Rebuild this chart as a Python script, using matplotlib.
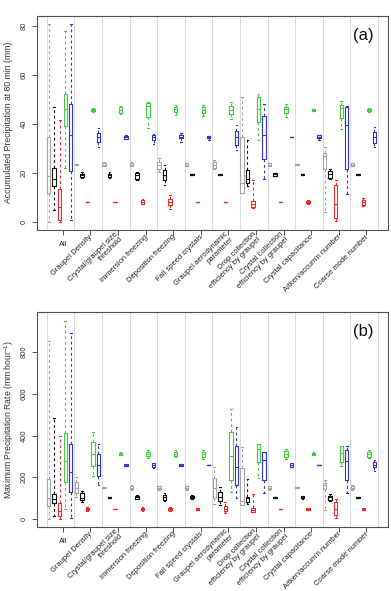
import numpy as np
import matplotlib
matplotlib.use('Agg')
import matplotlib.pyplot as plt

plt.rcParams['font.family'] = ['Liberation Sans', 'DejaVu Sans']
plt.rcParams['mathtext.fontset'] = 'custom'
plt.rcParams['mathtext.rm'] = 'Liberation Sans'
plt.rcParams['mathtext.it'] = 'Liberation Sans:italic'
plt.rcParams['mathtext.default'] = 'regular'

categories = ["All", "Graupel Density", "Crystal/graupel size\nthreshold",
              "Immersion freezing", "Deposition freezing", "Fall speed crystals",
              "Graupel aerodynamic\nparameter", "Drop collection\nefficiency by graupel",
              "Crystal collection\nefficiency by graupel", "Crystal capacitance",
              "Aitken/accum'n number", "Coarse mode number"]

# (whisker low, q1, median, q3, whisker high) per category
acc_gray = [(0.0, 12.0, 18.9, 34.8, 80.8), (23.2, 23.4, 23.5, 23.6, 23.8),
            (22.8, 23.1, 23.5, 24.0, 24.5), (22.8, 23.0, 23.5, 24.0, 24.4),
            (20.3, 21.9, 23.5, 24.6, 26.3), (22.8, 23.0, 23.5, 24.0, 24.3),
            (21.6, 22.2, 23.5, 24.4, 25.3), (12.0, 12.0, 16.0, 34.8, 50.9),
            (22.8, 23.0, 23.5, 24.0, 24.3), (23.3, 23.4, 23.5, 23.6, 23.7),
            (4.2, 21.8, 26.9, 28.4, 30.6), (22.8, 23.0, 23.5, 24.0, 24.3)]
acc_black = [(5.2, 14.7, 17.8, 22.3, 47.0), (18.2, 18.6, 19.2, 19.8, 20.4),
             (18.2, 18.6, 19.2, 19.8, 20.4), (17.1, 17.8, 19.2, 20.1, 20.5),
             (15.1, 17.1, 19.2, 21.2, 23.3), (19.4, 19.45, 19.5, 19.55, 19.6),
             (19.4, 19.45, 19.5, 19.55, 19.6), (14.7, 16.1, 17.8, 21.5, 33.5),
             (18.8, 19.0, 19.5, 20.0, 20.2), (19.4, 19.45, 19.5, 19.55, 19.6),
             (17.6, 18.2, 19.5, 20.9, 21.6), (19.4, 19.45, 19.5, 19.55, 19.6)]
acc_red = [(0.1, 1.1, 6.3, 13.5, 41.6), (8.2, 8.25, 8.3, 8.35, 8.4),
           (8.2, 8.25, 8.3, 8.35, 8.4), (7.3, 7.6, 8.3, 9.0, 9.4),
           (5.6, 6.9, 8.3, 9.4, 11.3), (8.2, 8.25, 8.3, 8.35, 8.4),
           (8.2, 8.25, 8.3, 8.35, 8.4), (5.8, 6.3, 7.3, 8.6, 17.3),
           (8.2, 8.25, 8.3, 8.35, 8.4), (7.6, 7.9, 8.3, 8.7, 9.0),
           (0.4, 1.6, 7.3, 15.1, 17.4), (6.5, 7.2, 8.3, 9.2, 9.8)]
acc_green = [(22.2, 39.3, 46.0, 52.1, 78.0), (45.0, 45.3, 45.7, 46.1, 46.4),
             (44.0, 44.6, 45.7, 46.8, 47.5), (38.6, 43.0, 47.3, 48.7, 49.1),
             (43.7, 44.8, 46.0, 46.8, 47.8), (43.3, 44.4, 45.7, 47.1, 48.0),
             (42.0, 44.1, 45.7, 47.3, 49.1), (33.5, 40.9, 46.0, 50.9, 52.5),
             (43.0, 44.6, 46.0, 47.1, 48.3), (45.2, 45.4, 45.7, 46.0, 46.2),
             (38.2, 42.6, 46.4, 48.0, 49.5), (45.0, 45.3, 45.7, 46.1, 46.4)]
acc_blue = [(0.8, 20.8, 35.5, 48.3, 80.8), (30.7, 32.8, 34.6, 36.4, 38.5),
            (33.8, 34.1, 34.6, 35.1, 35.4), (31.8, 33.7, 34.6, 35.5, 35.9),
            (32.8, 34.2, 34.6, 35.5, 36.3), (33.5, 34.2, 34.6, 35.0, 35.3),
            (29.4, 31.7, 34.8, 37.3, 39.6), (17.6, 26.0, 35.5, 43.4, 48.2),
            (34.7, 34.75, 34.8, 34.85, 34.9), (33.5, 34.2, 34.8, 35.4, 35.6),
            (11.7, 21.9, 39.6, 46.9, 47.3), (30.5, 32.4, 34.8, 36.9, 38.9)]

max_gray = [(0, 62, 102, 190, 855), (107, 123, 150, 179, 200),
            (147, 148, 150, 152, 153), (138, 142, 150, 158, 162),
            (140, 144, 150, 156, 160), (140, 144, 150, 156, 160),
            (72, 102, 150, 195, 248), (67, 67, 85, 243, 345),
            (140, 144, 150, 156, 160), (147, 148, 150, 152, 153),
            (43, 142, 163, 174, 187), (138, 142, 150, 158, 162)]
max_black = [(14, 78, 96, 118, 483), (80, 91, 103, 123, 134),
             (102, 103, 104, 105, 106), (95, 98, 104, 110, 113),
             (84, 91, 104, 115, 125), (95, 99, 104, 110, 113),
             (67, 86, 107, 128, 155), (72, 80, 99, 107, 192),
             (102, 103, 104, 105, 106), (98, 100, 104, 108, 110),
             (84, 91, 104, 112, 120), (102, 103, 104, 105, 106)]
max_red = [(0, 14, 40, 78, 398), (40, 44, 48, 53, 56),
           (46, 47, 48, 49, 50), (40, 43, 48, 54, 57),
           (40, 43, 48, 54, 57), (42, 45, 48, 51, 54),
           (27, 37, 48, 62, 80), (35, 35, 43, 54, 118),
           (46, 47, 48, 49, 50), (43, 45, 48, 51, 53),
           (3, 19, 46, 83, 96), (42, 45, 48, 51, 54)]
max_green = [(47, 179, 278, 414, 951), (206, 254, 312, 368, 419),
             (305, 308, 312, 316, 319), (293, 302, 312, 323, 332),
             (295, 303, 312, 322, 330), (290, 296, 312, 323, 330),
             (128, 187, 302, 419, 528), (195, 272, 336, 358, 360),
             (290, 299, 312, 326, 335), (305, 308, 312, 316, 319),
             (256, 272, 318, 350, 352), (292, 299, 312, 323, 332)]
max_blue = [(3, 131, 225, 358, 894), (163, 206, 259, 310, 358),
            (254, 256, 259, 262, 264), (245, 251, 259, 267, 270),
            (253, 256, 259, 262, 265), (257, 258, 259, 260, 261),
            (99, 163, 251, 352, 440), (123, 187, 283, 320, 322),
            (248, 251, 259, 267, 270), (257, 258, 259, 260, 261),
            (126, 187, 278, 331, 350), (232, 248, 259, 272, 283)]

series_colors = ['#a6a6a6', '#111111', '#ee2c2c', '#44cc44', '#3636c8']
acc_yticks = [0, 20, 40, 60, 80]
max_yticks = [0, 200, 400, 600, 800]

W, H = 391, 591
fig = plt.figure(figsize=(W / 100, H / 100), dpi=100)

def make_axes(top_px, bot_px):
    left_px, right_px = 36.7, 388.0
    return fig.add_axes([left_px / W, 1 - bot_px / H, (right_px - left_px) / W,
                         (bot_px - top_px) / H])

def draw_panel(ax, series, yticks, ylim, ylabel, tag, label_y_px):
    ncat = len(categories)
    for i in range(ncat + 1):
        ax.axvline(5 * i - 0.33, color='#dcdcdc', lw=0.8, zorder=0)
    for j, (vals, col) in enumerate(zip(series, series_colors)):
        stats = [dict(whislo=v[0], q1=v[1], med=v[2], q3=v[3], whishi=v[4], fliers=[])
                 for v in vals]
        pos = 5 * np.arange(ncat) + j
        lw = 0.8
        ax.bxp(stats, positions=pos, widths=0.62, capwidths=0.31, showfliers=False,
               boxprops=dict(color=col, lw=lw), medianprops=dict(color=col, lw=lw),
               whiskerprops=dict(color=col, lw=lw, linestyle=(0, (2.5, 2.5))),
               capprops=dict(color=col, lw=lw), manage_ticks=False)
    ax.set_xlim(-2.17, 61.47)
    ax.set_ylim(*ylim)
    ticks = 5 * np.arange(ncat) + 2.55
    ax.set_xticks(ticks)
    ax.set_xticklabels([])
    ax.set_yticks(yticks)
    ax.set_yticklabels([str(t) for t in yticks], rotation=90, va='center')
    ax.tick_params(axis='both', length=3.5, width=0.7, color='#555555',
                   labelcolor='#333333', labelsize=5.4)
    ax.tick_params(axis='y', pad=3)
    for s in ax.spines.values():
        s.set_color('#555555')
        s.set_linewidth(0.8)
    for i, lab in enumerate(categories):
        if i == 0:
            ax.annotate(lab, xy=(ticks[i], 0), xycoords=('data', 'axes fraction'),
                        xytext=(0, -7.6), textcoords='offset points', ha='center',
                        va='top', fontsize=5.4, color='#222222')
        else:
            ax.annotate(lab, xy=(ticks[i], 0), xycoords=('data', 'axes fraction'),
                        xytext=(0.8, -4.2), textcoords='offset points', rotation=45,
                        ha='right', va='center', rotation_mode='anchor',
                        multialignment='right', fontsize=5.4, color='#222222',
                        linespacing=1.0)
    fig.text(9 / W, 1 - label_y_px / H, ylabel, rotation=90, ha='center', va='center',
             fontsize=6.2, color='#333333')
    ax.text(0.929, 0.909, tag, transform=ax.transAxes, ha='center', va='center',
            fontsize=12, color='#111111')

ax1 = make_axes(15.5, 230.0)
draw_panel(ax1, [acc_gray, acc_black, acc_red, acc_green, acc_blue], acc_yticks,
           (-3.14, 84.3), 'Accumulated Precipitation at 80 min (mm)', '(a)', 122.7)
ax2 = make_axes(312.0, 527.0)
draw_panel(ax2, [max_gray, max_black, max_red, max_green, max_blue], max_yticks,
           (-38.4, 992.8), 'Maximum Precipitation Rate (mm hour$^{-1}$)', '(b)', 419.5)

fig.savefig('out.png', dpi=100)
